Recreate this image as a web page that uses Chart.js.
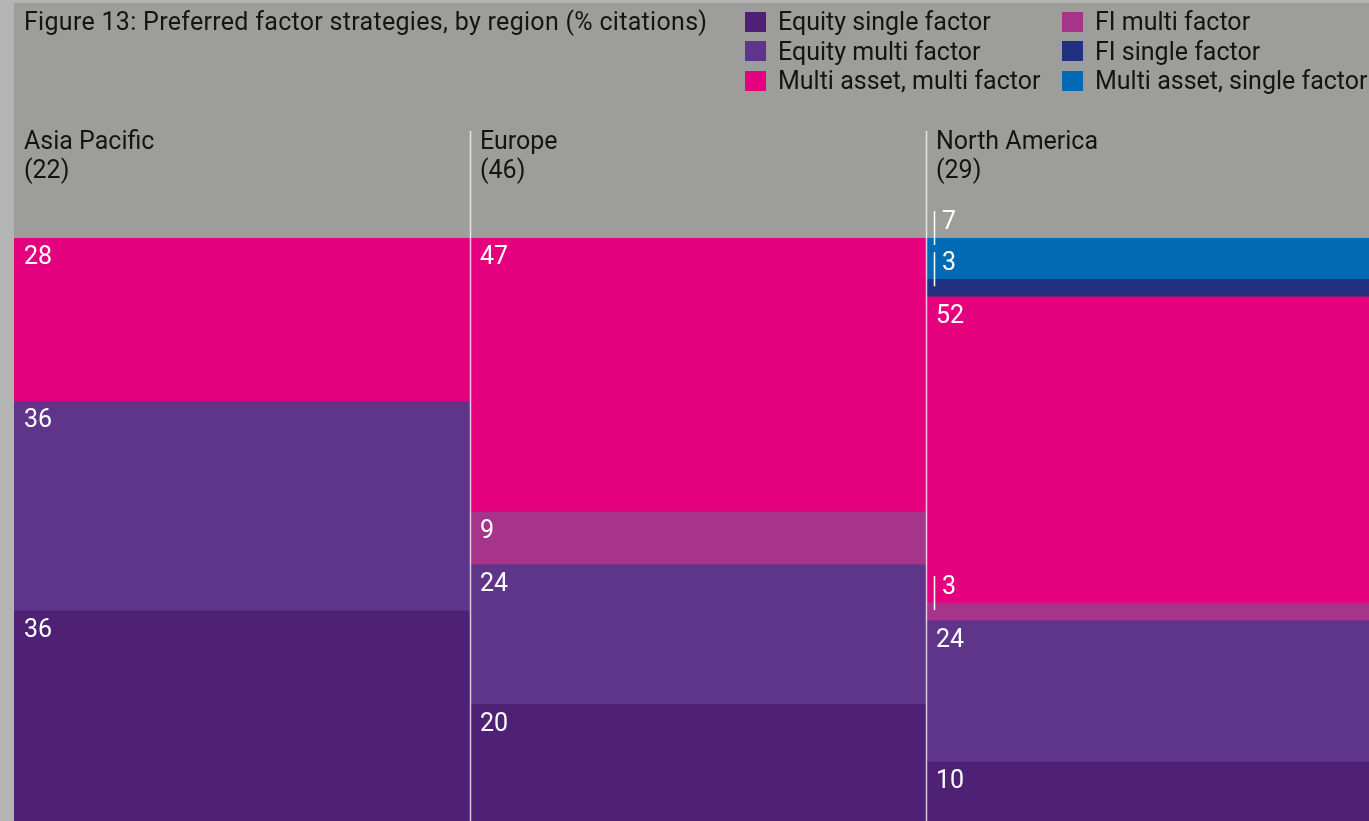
<!DOCTYPE html>
<html>
<head>
<meta charset="utf-8">
<title>Preferred factor strategies, by region</title>
<script src="https://cdn.jsdelivr.net/npm/chart.js@4.4.1/dist/chart.umd.min.js"></script>
<style>
    html, body { margin: 0; padding: 0; }
    body {
        width: 1369px;
        height: 821px;
        overflow: hidden;
        position: relative;
        background: #b4b4b4;
        font-family: Roboto, 'Noto Sans', sans-serif;
    }
    #frame {
        position: absolute;
        left: 14px;
        top: 3px;
        width: 1368px;
        height: 818px;
        background: #9d9d9c;
    }
    #title {
        position: absolute;
        left: 24px;
        top: 8px;
        font-size: 25px;
        line-height: 28px;
        letter-spacing: 0.3px;
        color: #141414;
        white-space: nowrap;
    }
    #legend {
        position: absolute;
        left: 745px;
        top: 7px;
        display: grid;
        grid-template-columns: 317px auto;
        grid-template-rows: repeat(3, 29.5px);
        grid-auto-flow: column;
        font-size: 25px;
        color: #141414;
    }
    .item { display: flex; align-items: center; white-space: nowrap; }
    .swatch { width: 21px; height: 20px; margin-right: 12px; flex: none; }
</style>
</head>
<body>
<div id="frame"><canvas id="chart" width="1368" height="818"></canvas></div>
<div id="title">Figure 13: Preferred factor strategies, by region (% citations)</div>
<div id="legend"></div>

<script>
// Regions and number of respondents
const regions = ['Asia Pacific', 'Europe', 'North America'];
const respondents = [22, 46, 29];

// Series, bottom of the stack first
const seriesNames = [
    'Equity single factor',
    'Equity multi factor',
    'FI multi factor',
    'Multi asset, multi factor',
    'FI single factor',
    'Multi asset, single factor'
];
const seriesColors = ['#4e2175', '#5f3589', '#a5348a', '#e5007d', '#22317f', '#006ab4'];

// % citations per region
const equitySingle     = [36, 20, 10];
const equityMulti      = [36, 24, 24];
const fiMulti          = [null, 9, 3];
const multiAssetMulti  = [28, 47, 52];
const fiSingle         = [null, null, 3];
const multiAssetSingle = [null, null, 7];

const seriesValues = [equitySingle, equityMulti, fiMulti, multiAssetMulti, fiSingle, multiAssetSingle];

// Legend order as printed: two columns, filled top to bottom
const legendOrder = [0, 1, 3, 2, 4, 5];

function buildLegend() {
    const legend = document.getElementById('legend');
    legendOrder.forEach(idx => {
        const item = document.createElement('div');
        item.className = 'item';
        item.innerHTML = '<span class="swatch" style="background:' + seriesColors[idx] + '"></span>' +
            '<span>' + seriesNames[idx] + '</span>';
        legend.appendChild(item);
    });
}

// Each column is shown as 100% of its citations
const columnTotals = regions.map((r, i) =>
    seriesValues.reduce((sum, arr) => sum + (arr[i] || 0), 0));

const datasets = seriesNames.map((name, s) => ({
    label: name,
    raw: seriesValues[s],
    data: seriesValues[s].map((v, i) => v == null ? null : v / columnTotals[i] * 100),
    backgroundColor: seriesColors[s],
    borderWidth: 0,
    barPercentage: 1,
    categoryPercentage: 1
}));

// Region headings, separators and the value labels
const annotations = {
    id: 'annotations',
    afterDatasetsDraw(chart) {
        const ctx = chart.ctx;
        const area = chart.chartArea;
        const metas = chart.data.datasets.map((d, s) => chart.getDatasetMeta(s));

        ctx.save();
        ctx.font = '25px Roboto, "Noto Sans", sans-serif';
        ctx.textAlign = 'left';
        ctx.textBaseline = 'middle';

        regions.forEach((region, i) => {
            const first = metas[0].data[i];
            const left = first.x - first.width / 2;

            // heading
            ctx.fillStyle = '#141414';
            ctx.fillText(region, left + 10, area.top - 95);
            ctx.fillText('(' + respondents[i] + ')', left + 10, area.top - 66);

            // separator between columns
            if (i > 0) {
                ctx.strokeStyle = 'rgba(255,255,255,0.75)';
                ctx.lineWidth = 1.5;
                ctx.beginPath();
                ctx.moveTo(left + 0.5, area.top - 107);
                ctx.lineTo(left + 0.5, area.bottom);
                ctx.stroke();
            }

            // segment labels, bottom to top
            let raisedCenter = null;
            chart.data.datasets.forEach((ds, s) => {
                const value = ds.raw[i];
                if (value == null) return;
                const bar = metas[s].data[i];
                const top = bar.y;
                const h = bar.base - bar.y;

                let raised = h < 25;
                let center = top + 20;
                if (!raised && raisedCenter !== null && raisedCenter - center < 30) raised = true;
                if (raised) center = top - 15;

                ctx.fillStyle = '#ffffff';
                if (raised) {
                    ctx.strokeStyle = '#ffffff';
                    ctx.lineWidth = 1.5;
                    ctx.beginPath();
                    ctx.moveTo(left + 8.5, center - 12);
                    ctx.lineTo(left + 8.5, top + 7);
                    ctx.stroke();
                    ctx.fillText(String(value), left + 16, center);
                } else {
                    ctx.fillText(String(value), left + 10, center);
                }
                raisedCenter = raised ? center : null;
            });
        });
        ctx.restore();
    }
};

window.addEventListener('DOMContentLoaded', () => {
    buildLegend();
    const ctx = document.getElementById('chart').getContext('2d');
    new Chart(ctx, {
        type: 'bar',
        data: { labels: regions, datasets: datasets },
        options: {
            responsive: false,
            animation: false,
            devicePixelRatio: 1,
            layout: { padding: { top: 235, left: 0, right: 0, bottom: 0 } },
            plugins: {
                legend: { display: false },
                tooltip: { enabled: false },
                title: { display: false }
            },
            scales: {
                x: { stacked: true, display: false },
                y: { stacked: true, display: false, min: 0, max: 100 }
            }
        },
        plugins: [annotations]
    });
});
</script>
</body>
</html>
